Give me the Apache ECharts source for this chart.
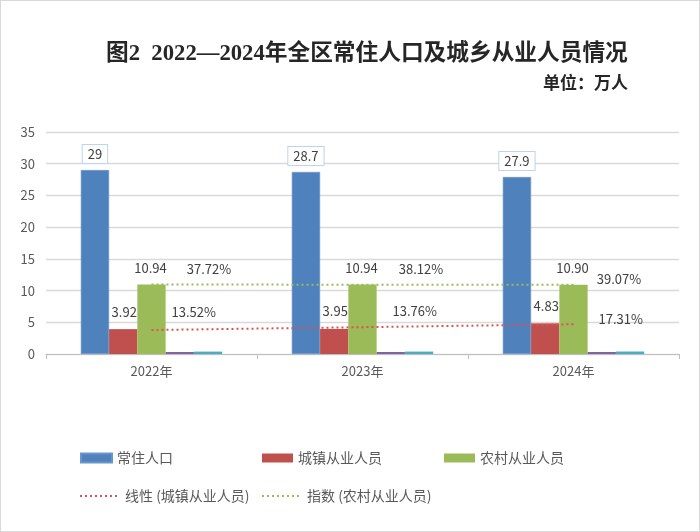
<!DOCTYPE html>
<html>
<head>
<meta charset="utf-8">
<script src="https://cdn.jsdelivr.net/npm/echarts@6/dist/echarts.min.js"></script>
<style>
html,body{margin:0;padding:0;background:#fff;}
#wrap{width:700px;height:532px;box-sizing:border-box;border:1px solid #d9d9d9;position:relative;}
#chart{position:absolute;left:-1px;top:-1px;width:700px;height:532px;}
</style>
</head>
<body>
<div id="wrap"><div id="chart"></div></div>
<script>
// ---- data ----
const years = ['2022年', '2023年', '2024年'];
const residentPop = [29, 28.7, 27.9];          // 常住人口
const urbanEmployed = [3.92, 3.95, 4.83];      // 城镇从业人员
const ruralEmployed = [10.94, 10.94, 10.90];   // 农村从业人员
const urbanSharePct = [13.52, 13.76, 17.31];   // 城镇从业人员占比 (%)
const ruralSharePct = [37.72, 38.12, 39.07];   // 农村从业人员占比 (%)
const urbanLinearTrend = [3.78, 4.23, 4.69];   // 线性 (城镇从业人员)
const ruralExpTrend = [10.95, 10.93, 10.91];   // 指数 (农村从业人员)
const yTicks = {min: 0, max: 35, interval: 5};

// ---- label layout (styling only) ----
const urbanShareLabelOffsets = [[14, -28], [24, -29], [19, -21]];
const ruralShareLabelOffsets = [[1, -71], [2, -71], [-11, -61]];

const FONT = '"Noto Sans CJK SC", "Noto Sans", sans-serif';
const labelBase = {show: true, position: 'top', color: '#404040', fontSize: 13, fontFamily: FONT};
const legendText = {fontSize: 14, color: '#595959', fontFamily: FONT};

const chart = echarts.init(document.getElementById('chart'), null, {renderer: 'canvas'});

const option = {
  backgroundColor: 'transparent',
  animation: false,
  title: [
    {
      text: '图2  2022—2024年全区常住人口及城乡从业人员情况',
      left: 101, top: 38,
      textStyle: {fontSize: 22.7, fontWeight: 'bold', color: '#262626',
        fontFamily: '"Liberation Serif", "Noto Sans CJK SC", serif'}
    },
    {
      text: '单位：万人',
      right: 67, top: 69,
      textStyle: {fontSize: 17, fontWeight: 'bold', color: '#262626', fontFamily: FONT}
    }
  ],
  grid: {left: 46, right: 21, top: 132, bottom: 178},
  legend: [
    {data: ['常住人口'], left: 80, top: 451, padding: 0, icon: 'rect', itemWidth: 31, itemHeight: 9, textStyle: legendText},
    {data: ['城镇从业人员'], left: 262, top: 451, padding: 0, icon: 'rect', itemWidth: 31, itemHeight: 9, textStyle: legendText},
    {data: ['农村从业人员'], left: 444, top: 451, padding: 0, icon: 'rect', itemWidth: 31, itemHeight: 9, textStyle: legendText},
    {data: ['线性 (城镇从业人员)'], left: 79, top: 489, padding: 0, itemWidth: 40, itemHeight: 14,
      itemStyle: {opacity: 0}, textStyle: legendText},
    {data: ['指数 (农村从业人员)'], left: 261, top: 489, padding: 0, itemWidth: 40, itemHeight: 14,
      itemStyle: {opacity: 0}, textStyle: legendText}
  ],
  xAxis: {
    type: 'category',
    data: years,
    axisLine: {lineStyle: {color: '#BFBFBF', width: 1}},
    axisTick: {show: true, length: 5, lineStyle: {color: '#BFBFBF'}},
    axisLabel: {color: '#595959', fontSize: 13, margin: 11, fontFamily: FONT}
  },
  yAxis: {
    type: 'value',
    min: yTicks.min, max: yTicks.max, interval: yTicks.interval,
    axisLine: {show: false},
    axisTick: {show: false},
    axisLabel: {color: '#595959', fontSize: 13, margin: 11, fontFamily: FONT},
    splitLine: {lineStyle: {color: '#D9D9D9', width: 1.3}}
  },
  series: [
    {
      name: '常住人口', type: 'bar', data: residentPop,
      barGap: 0, barCategoryGap: '33%',
      itemStyle: {color: '#4F81BD', borderColor: '#6A95CB', borderWidth: 0.6},
      label: Object.assign({}, labelBase, {
        distance: 7, backgroundColor: '#fff', borderColor: '#BDD3EE', borderWidth: 1,
        padding: [3, 5, 2, 5]
      })
    },
    {
      name: '城镇从业人员', type: 'bar', data: urbanEmployed,
      itemStyle: {color: '#C0504D'},
      label: Object.assign({}, labelBase, {offset: [1, -6],
        formatter: p => urbanEmployed[p.dataIndex].toFixed(2)})
    },
    {
      name: '农村从业人员', type: 'bar', data: ruralEmployed,
      itemStyle: {color: '#9BBB59'},
      label: Object.assign({}, labelBase, {offset: [-1, -5],
        formatter: p => ruralEmployed[p.dataIndex].toFixed(2)})
    },
    {
      name: '城镇从业人员占比', type: 'bar', barMinHeight: 2,
      data: urbanSharePct.map((v, i) => ({
        value: v / 100,
        label: {offset: urbanShareLabelOffsets[i]}
      })),
      itemStyle: {color: '#8064A2'},
      label: Object.assign({}, labelBase, {
        formatter: p => urbanSharePct[p.dataIndex].toFixed(2) + '%'
      })
    },
    {
      name: '农村从业人员占比', type: 'bar', barMinHeight: 2,
      data: ruralSharePct.map((v, i) => ({
        value: v / 100,
        label: {offset: ruralShareLabelOffsets[i]}
      })),
      itemStyle: {color: '#4BACC6'},
      label: Object.assign({}, labelBase, {
        formatter: p => ruralSharePct[p.dataIndex].toFixed(2) + '%'
      })
    },
    {
      name: '线性 (城镇从业人员)', type: 'line', data: urbanLinearTrend,
      symbol: 'none', z: 5,
      lineStyle: {color: '#E0504D', width: 2, type: [2, 3]},
      itemStyle: {color: '#E0504D'}
    },
    {
      name: '指数 (农村从业人员)', type: 'line', data: ruralExpTrend,
      symbol: 'none', z: 5,
      lineStyle: {color: '#9BBB59', width: 2, type: [2, 3]},
      itemStyle: {color: '#9BBB59'}
    }
  ]
};
chart.setOption(option);
</script>
</body>
</html>
